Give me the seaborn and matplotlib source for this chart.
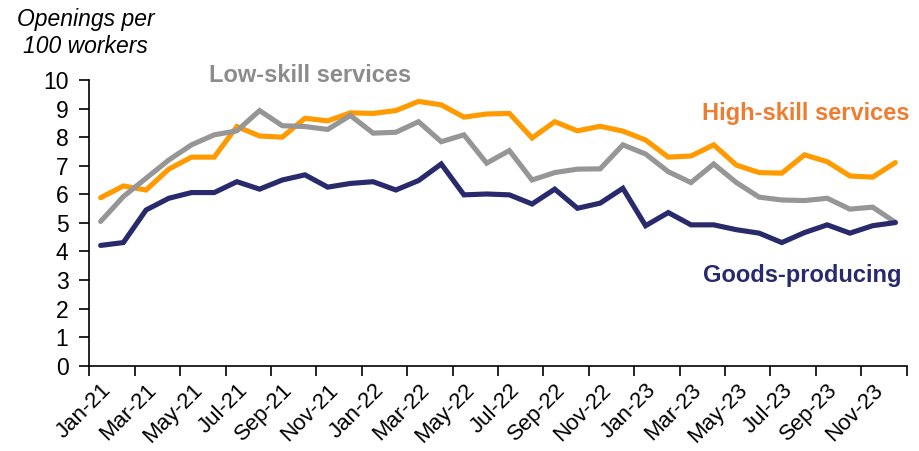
import matplotlib
matplotlib.use("Agg")
import matplotlib.pyplot as plt
import seaborn as sns
import pandas as pd
import numpy as np

# Monthly job openings per 100 workers, Jan-2021 to Dec-2023
months = pd.date_range("2021-01-01", "2023-12-01", freq="MS")
month_labels = [m.strftime("%b-%y") for m in months]

high_skill = [5.88, 6.29, 6.15, 6.88, 7.30, 7.30, 8.37, 8.04, 8.00, 8.66,
              8.57, 8.85, 8.83, 8.93, 9.25, 9.13, 8.70, 8.81, 8.83, 7.97,
              8.54, 8.22, 8.38, 8.21, 7.90, 7.30, 7.34, 7.73, 7.02, 6.76,
              6.74, 7.38, 7.14, 6.64, 6.60, 7.11]
low_skill = [5.05, 5.92, 6.56, 7.20, 7.73, 8.08, 8.22, 8.93, 8.40, 8.37,
             8.27, 8.76, 8.14, 8.17, 8.54, 7.84, 8.08, 7.09, 7.53, 6.50,
             6.76, 6.88, 6.89, 7.73, 7.41, 6.79, 6.41, 7.06, 6.41, 5.90,
             5.80, 5.78, 5.86, 5.48, 5.55, 5.02]
goods = [4.21, 4.31, 5.45, 5.86, 6.06, 6.06, 6.44, 6.18, 6.50, 6.68,
         6.25, 6.38, 6.44, 6.15, 6.48, 7.06, 5.98, 6.01, 5.98, 5.66,
         6.18, 5.51, 5.69, 6.21, 4.90, 5.36, 4.93, 4.93, 4.76, 4.64,
         4.31, 4.66, 4.93, 4.64, 4.90, 5.01]

series_names = ["High-skill services", "Low-skill services", "Goods-producing"]
line_colors = {"High-skill services": "#FF9A00",
               "Low-skill services": "#969696",
               "Goods-producing": "#282A6C"}

df = pd.DataFrame({
    "idx": list(range(len(months))) * 3,
    "value": high_skill + low_skill + goods,
    "series": sum([[s] * len(months) for s in series_names], []),
})

sns.set_style("white")
plt.rcParams["font.family"] = ["Liberation Sans", "DejaVu Sans"]

fig = plt.figure(figsize=(9.19, 4.51), dpi=100)
ax = fig.add_axes([89.3 / 919, 1 - 365.7 / 451, (906.7 - 89.3) / 919, (365.7 - 80) / 451])

sns.lineplot(data=df, x="idx", y="value", hue="series", hue_order=series_names,
             palette=line_colors, linewidth=3.7, legend=False, ax=ax,
             solid_joinstyle="miter")

ax.set_xlim(-0.5, len(months) - 0.5)
ax.set_ylim(0, 10)
ax.set_xlabel("")
ax.set_ylabel("")

# Category labels every other month, tick marks on category boundaries
ax.set_xticks(np.arange(0, len(months), 2))
ax.set_xticklabels(month_labels[::2], rotation=45, ha="right", va="top",
                   rotation_mode="anchor", fontsize=16)
ax.set_xticks(np.arange(-0.5, len(months), 2), minor=True)
ax.tick_params(axis="x", which="major", bottom=True, length=0, pad=10)
ax.tick_params(axis="x", which="minor", bottom=True, length=7, width=1.2,
               direction="out", color="black")

ax.set_yticks(range(0, 11))
ax.tick_params(axis="y", which="major", left=True, length=7, width=1.2, direction="out",
               color="black", labelsize=16.5, pad=8)
ax.tick_params(axis="both", labelcolor="black")

for side in ["top", "right"]:
    ax.spines[side].set_visible(False)
for side in ["left", "bottom"]:
    ax.spines[side].set_color("black")
    ax.spines[side].set_linewidth(1.2)

# Axis title in the top-left corner
fig.text(85.5 / 919, 1 - 8 / 451, "Openings per\n100 workers", ha="center", va="top",
         fontsize=16.5, style="italic", linespacing=1.2, color="black")

# Direct series labels
fig.text(209 / 919, 1 - 81.7 / 451, "Low-skill services", ha="left", va="baseline",
         fontsize=17, fontweight="bold", color="#8C8C8C")
fig.text(702 / 919, 1 - 120 / 451, "High-skill services", ha="left", va="baseline",
         fontsize=17, fontweight="bold", color="#ED7D31")
fig.text(703.5 / 919, 1 - 281.7 / 451, "Goods-producing", ha="left", va="baseline",
         fontsize=17, fontweight="bold", color="#282A6C")

fig.savefig("out.png", dpi=100, facecolor="white")
